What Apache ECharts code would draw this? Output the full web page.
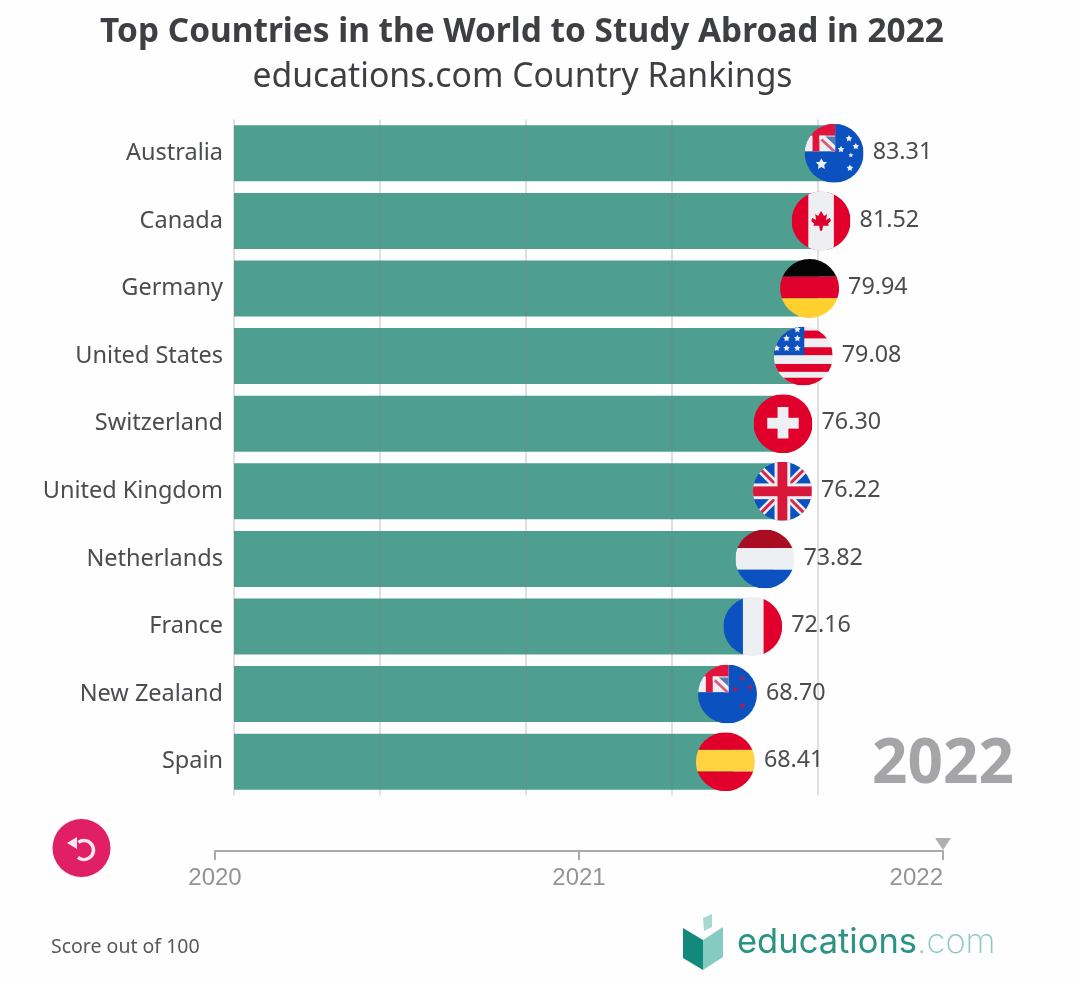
<!DOCTYPE html>
<html>
<head>
<meta charset="utf-8">
<style>html,body{margin:0;padding:0;background:#fff}#chart{width:1080px;height:985px}</style>
<script src="https://cdn.jsdelivr.net/npm/echarts@6/dist/echarts.min.js"></script>
</head>
<body>
<div id="chart"></div>
<script>
const BLUE = '#0b52c0', RED = '#e0002b', WHITE = '#eeeff2', YELLOW = '#ffd23f';
const FONT = '"Noto Sans", sans-serif';

function star(cx, cy, r, fill) {
    let pts = [];
    for (let i = 0; i < 10; i++) {
        let rr = i % 2 ? r * 0.5 : r;
        let a = -Math.PI / 2 + i * Math.PI / 5;
        pts.push((cx + rr * Math.cos(a)).toFixed(1) + ',' + (cy + rr * Math.sin(a)).toFixed(1));
    }
    return `<polygon points="${pts.join(' ')}" fill="${fill}"/>`;
}
function rect(x, y, w, h, fill) {
    return `<rect x="${x}" y="${y}" width="${w}" height="${h}" fill="${fill}"/>`;
}
const canton = rect(0, 0, 31, 28, WHITE) + rect(0, 0, 31, 12, '#e0143c') + rect(8, 0, 7, 28, '#e0143c')
    + '<polygon points="21,13 31,13 31,22" fill="#5a78b0"/>'
    + '<polygon points="15,12 20,12 31,23 31,28 27,28 15,16" fill="' + WHITE + '"/>'
    + '<polygon points="16,17 18,15 31,27 31,28 28,28" fill="#d8607a"/>';

const flags = {
    au: rect(0, 0, 60, 60, BLUE) + canton + star(17, 41, 6, WHITE) + star(45, 15, 3.6, WHITE)
        + star(37, 26, 3.6, WHITE) + star(52, 23, 3.6, WHITE) + star(47, 32, 2.6, WHITE) + star(46, 45, 3.6, WHITE),
    ca: rect(0, 0, 60, 60, RED) + rect(17, 0, 26, 60, WHITE)
        + '<polygon points="30,20 33,25 36,23 35,29 39,27 40,30 37,33 38,35 32,35 31,40 29,40 28,35 22,35 23,33 20,30 21,27 25,29 24,23 27,25" fill="' + RED + '"/>',
    de: rect(0, 0, 60, 18, '#050505') + rect(0, 18, 60, 22, RED) + rect(0, 40, 60, 20, '#ffd02e'),
    us: rect(0, 0, 60, 60, WHITE) + rect(0, 4, 60, 8, RED) + rect(0, 21, 60, 8, RED) + rect(0, 38, 60, 8, RED)
        + rect(0, 52, 60, 8, RED) + rect(0, 0, 31, 29, BLUE)
        + star(24, 3, 3.6, WHITE) + star(13, 12, 3.6, WHITE) + star(24, 12, 3.6, WHITE) + star(3, 22, 3.6, WHITE)
        + star(13, 22, 3.6, WHITE) + star(24, 22, 3.6, WHITE),
    ch: rect(0, 0, 60, 60, RED) + rect(24.5, 13, 11, 32, WHITE) + rect(14, 24, 32, 11, WHITE),
    gb: rect(0, 0, 60, 60, BLUE)
        + '<path d="M0,0 L60,60 M60,0 L0,60" stroke="' + WHITE + '" stroke-width="8"/>'
        + '<path d="M0,0 L60,60 M60,0 L0,60" stroke="#d8274a" stroke-width="3"/>'
        + rect(22, 0, 16, 60, WHITE) + rect(0, 22, 60, 16, WHITE) + rect(25, 0, 10, 60, '#d8183a') + rect(0, 25, 60, 10, '#d8183a'),
    nl: rect(0, 0, 60, 19, '#a80d24') + rect(0, 19, 60, 22, WHITE) + rect(0, 41, 60, 19, BLUE),
    fr: rect(0, 0, 20, 60, BLUE) + rect(20, 0, 21, 60, WHITE) + rect(41, 0, 19, 60, RED),
    nz: rect(0, 0, 60, 60, BLUE) + canton + star(45, 14, 3, '#b01c4a') + star(38, 25, 3, '#b01c4a')
        + star(53, 23, 3, '#b01c4a') + star(45, 42, 3.4, '#b01c4a'),
    es: rect(0, 0, 60, 18, RED) + rect(0, 18, 60, 22, YELLOW) + rect(0, 40, 60, 20, RED)
};

function flagUrl(key) {
    let svg = '<svg xmlns="http://www.w3.org/2000/svg" width="118" height="118" viewBox="0 0 60 60">'
        + '<defs><clipPath id="c"><circle cx="30" cy="30" r="30"/></clipPath></defs>'
        + '<g clip-path="url(#c)">' + flags[key] + '</g></svg>';
    return 'data:image/svg+xml;charset=utf-8,' + encodeURIComponent(svg);
}

let rankings = [
    { name: 'Australia', score: 83.31, flag: 'au' },
    { name: 'Canada', score: 81.52, flag: 'ca' },
    { name: 'Germany', score: 79.94, flag: 'de' },
    { name: 'United States', score: 79.08, flag: 'us' },
    { name: 'Switzerland', score: 76.30, flag: 'ch' },
    { name: 'United Kingdom', score: 76.22, flag: 'gb' },
    { name: 'Netherlands', score: 73.82, flag: 'nl' },
    { name: 'France', score: 72.16, flag: 'fr' },
    { name: 'New Zealand', score: 68.70, flag: 'nz' },
    { name: 'Spain', score: 68.41, flag: 'es' }
];

let chart = echarts.init(document.getElementById('chart'), null, { renderer: 'canvas' });

let option = {
    backgroundColor: '#fefefe',
    animation: false,
    title: [
        {
            text: 'Top Countries in the World to Study Abroad in 2022',
            left: 517, top: 11, textAlign: 'center',
            textStyle: { fontFamily: FONT, fontSize: 33.4, fontWeight: 'bold', color: '#3d3f42' }
        },
        {
            text: 'educations.com Country Rankings',
            left: 517.5, top: 55, textAlign: 'center',
            textStyle: { fontFamily: FONT, fontSize: 33.7, fontWeight: 'normal', color: '#3d3f42' }
        },
        {
            text: 'Score out of 100',
            left: 46, top: 932,
            textStyle: { fontFamily: FONT, fontSize: 19.5, fontWeight: 'normal', color: '#55575a' }
        }
    ],
    grid: [
        { left: 234, top: 119.5, width: 657, height: 676 },
        { left: 215, top: 850, width: 728, height: 1 }
    ],
    xAxis: [
        {
            type: 'value', gridIndex: 0, min: 0, max: 90, interval: 20, z: 3,
            axisLabel: { show: false }, axisLine: { show: false }, axisTick: { show: false },
            splitLine: { show: true, showMaxLine: false, lineStyle: { color: 'rgba(120,125,125,0.32)', width: 1.5 } }
        },
        {
            type: 'value', gridIndex: 1, min: 2020, max: 2022, interval: 1, position: 'bottom',
            axisLine: { show: true, onZero: false, lineStyle: { color: '#aaaaaa', width: 2 } },
            axisTick: { show: true, length: 9, lineStyle: { color: '#aaaaaa', width: 2 } },
            axisLabel: {
                color: '#949494', fontFamily: '"Liberation Sans", sans-serif', fontSize: 24, margin: 15,
                alignMaxLabel: 'right', formatter: (v) => String(v)
            },
            splitLine: { show: false }
        }
    ],
    yAxis: [
        {
            type: 'category', gridIndex: 0, inverse: true,
            data: rankings.map((d) => d.name),
            axisLine: { show: false }, axisTick: { show: false },
            axisLabel: { color: '#4a4c4f', fontFamily: FONT, fontSize: 23.5, margin: 11 }
        },
        { type: 'value', gridIndex: 1, min: 0, max: 1, show: false }
    ],
    series: [
        {
            type: 'bar', z: 2, barWidth: 56, xAxisIndex: 0, yAxisIndex: 0,
            itemStyle: { color: '#4f9f90' },
            data: rankings.map((d) => d.score)
        },
        {
            type: 'custom', z: 4, xAxisIndex: 0, yAxisIndex: 0, clip: false,
            data: rankings.map((d, i) => [d.score, i]),
            encode: { x: 0, y: 1 },
            renderItem: (params, api) => {
                let p = api.coord([api.value(0), api.value(1)]);
                let row = rankings[params.dataIndex];
                let r = 29.5;
                let cx = p[0] - 8;
                return {
                    type: 'group',
                    children: [
                        {
                            type: 'image',
                            style: { image: flagUrl(row.flag), x: cx - r, y: p[1] - r, width: r * 2, height: r * 2 }
                        },
                        {
                            type: 'text',
                            style: {
                                text: row.score.toFixed(2), x: cx + r + 9, y: p[1] - 1,
                                verticalAlign: 'middle', align: 'left',
                                fontFamily: FONT, fontSize: 23.3, fill: '#4a4c4f'
                            }
                        }
                    ]
                };
            }
        },
        {
            // current year marker on the timeline
            type: 'scatter', xAxisIndex: 1, yAxisIndex: 1, z: 5,
            symbol: 'triangle', symbolRotate: 180, symbolSize: [16, 12], symbolOffset: [0, -6],
            itemStyle: { color: '#9b9b9b' },
            data: [[2022, 1]]
        }
    ],
    graphic: [
        {
            type: 'text', left: 872, top: 734,
            style: { text: '2022', fontFamily: FONT, fontWeight: 'bold', fontSize: 62, fill: '#a5a5a8' }
        },
        { type: 'circle', shape: { cx: 81.5, cy: 848, r: 29 }, style: { fill: '#e01f66' } },
        {
            type: 'arc',
            shape: { cx: 84, cy: 850, r: 9.5, startAngle: -Math.PI * 0.7, endAngle: Math.PI * 0.72, clockwise: true },
            style: { stroke: '#f9e9ef', lineWidth: 3.5, fill: null }
        },
        { type: 'polygon', shape: { points: [[77, 837], [67, 843], [77, 849]] }, style: { fill: '#f9e9ef' } },
        { type: 'polygon', shape: { points: [[683, 928], [703, 940], [703, 970], [683, 958]] }, style: { fill: '#12897a' } },
        { type: 'polygon', shape: { points: [[703, 940], [723, 927], [723, 957], [703, 970]] }, style: { fill: '#85cbc2' } },
        { type: 'polygon', shape: { points: [[703, 918], [712, 914], [712, 927], [704, 931]] }, style: { fill: '#a8d8d0' } },
        {
            type: 'text', left: 737, top: 925,
            style: {
                text: '{a|educations}{b|.com}',
                rich: {
                    a: { fontFamily: 'Inter, sans-serif', fontSize: 34.5, fontWeight: 400, fill: '#2a9483' },
                    b: { fontFamily: 'Inter, sans-serif', fontSize: 34.5, fontWeight: 200, fill: '#8cc9bf' }
                }
            }
        }
    ]
};

chart.setOption(option);
</script>
</body>
</html>
